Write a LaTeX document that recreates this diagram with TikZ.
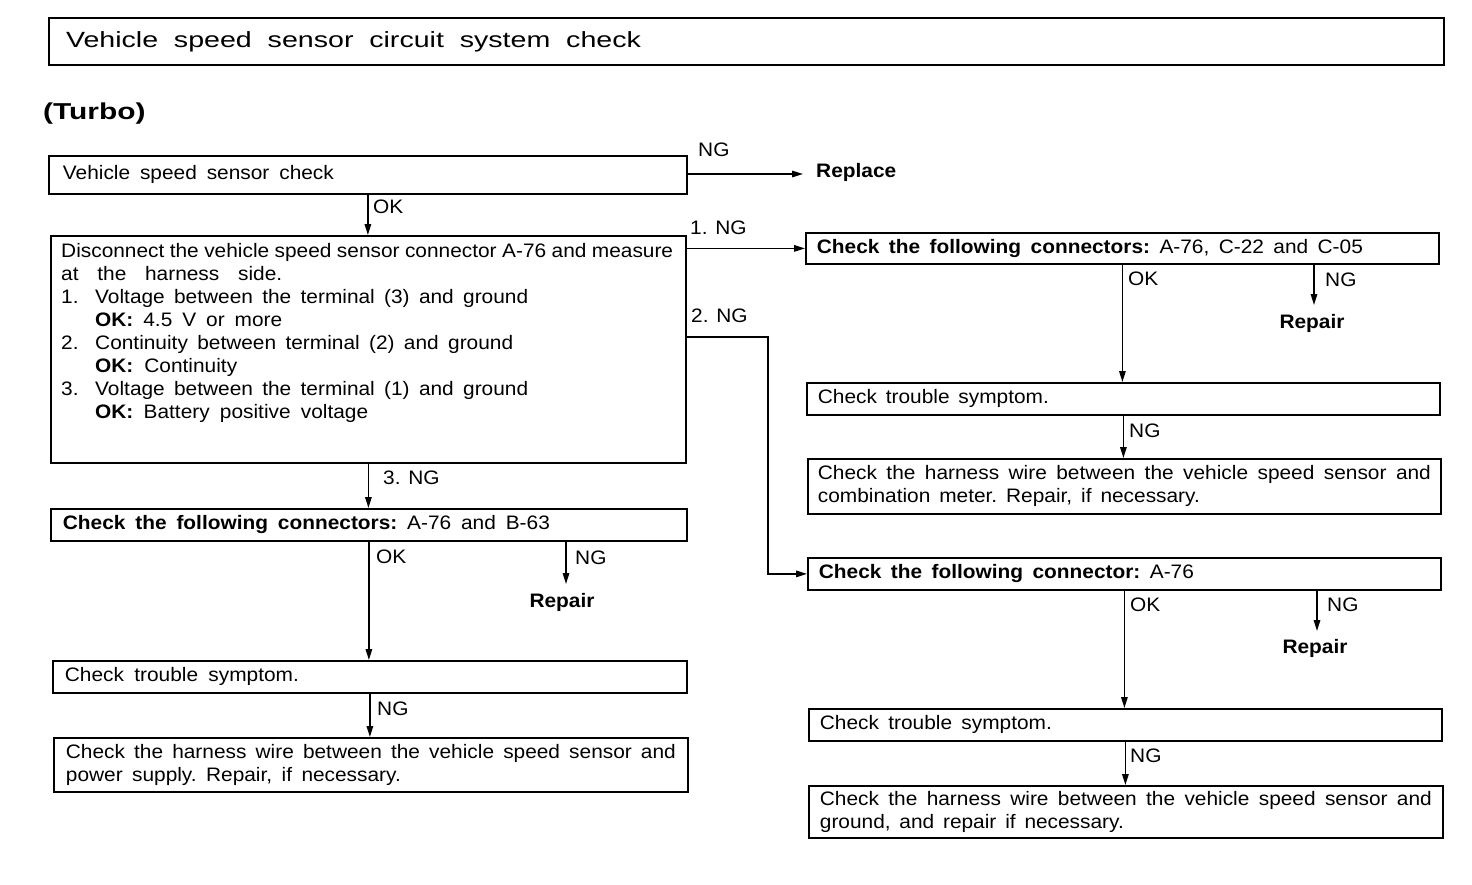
\documentclass[tikz,border=0pt]{standalone}
\usepackage{fontspec}
\setmainfont[FakeStretch=1.07]{Liberation Sans}
\newfontfamily\titlefont[FakeStretch=1.3]{Liberation Sans}
\usetikzlibrary{arrows.meta}
\newcommand\jline[2]{\makebox[#1pt][s]{\frenchspacing\spaceskip=0.27em plus 1fil minus 0.1em\relax #2}}
\begin{document}
\begin{tikzpicture}[x=1pt,y=-1pt,
  every node/.style={font=\fontsize{19.5}{23}\selectfont},
  box/.style={draw, line width=1.8pt, anchor=north west, inner ysep=0pt, align=left},
  lbl/.style={anchor=west, inner sep=0pt},
  arr/.style={line width=1.5pt, -{Triangle[length=11pt,width=6.5pt]}}]
\useasboundingbox (0,0) rectangle (1472,884);
% title
\node[box, line width=2pt, minimum width=1395pt, minimum height=47pt, text width=1361pt, inner xsep=17pt, font=\titlefont\fontsize{22}{26}\selectfont] (title) at (48,17) {\jline{575}{Vehicle speed sensor circuit system check}};
\node[lbl, font=\titlefont\bfseries\fontsize{23}{26}\selectfont] (turbo) at (43,114) {(Turbo)};
% left column
\node[box, minimum width=638pt, minimum height=38pt, text width=610pt, inner xsep=14pt] (b1) at (48,155) {\jline{271}{Vehicle speed sensor check}};
\node[box, minimum width=635pt, minimum height=227pt] (b2) at (50,235) {};
\node[anchor=north west, inner sep=0pt, text width=620pt, align=left] (b2t) at (61,243) {%
\jline{612}{Disconnect the vehicle speed sensor connector A-76 and measure}\\
\jline{221}{at the harness side.}\\
\makebox[34pt][l]{1.}\jline{433}{Voltage between the terminal (3) and ground}\\
\hspace*{34pt}\jline{187}{\textbf{OK:} 4.5 V or more}\\
\makebox[34pt][l]{2.}\jline{418}{Continuity between terminal (2) and ground}\\
\hspace*{34pt}\jline{142}{\textbf{OK:} Continuity}\\
\makebox[34pt][l]{3.}\jline{433}{Voltage between the terminal (1) and ground}\\
\hspace*{34pt}\jline{273}{\textbf{OK:} Battery positive voltage}};
\node[box, minimum width=636pt, minimum height=32pt, text width=612pt, inner xsep=12pt] (l3) at (50,508) {\jline{487}{\textbf{Check the following connectors:} A-76 and B-63}};
\node[box, minimum width=634pt, minimum height=32pt, text width=610pt, inner xsep=12pt] (l4) at (52,660) {\jline{234}{Check trouble symptom.}};
\node[box, minimum width=634pt, minimum height=54pt, text width=610pt, inner xsep=12pt] (l5) at (53,737) {\jline{610}{Check the harness wire between the vehicle speed sensor and}\\ \jline{335}{power supply. Repair, if necessary.}};
% right column
\node[box, minimum width=633pt, minimum height=31pt, text width=611pt, inner xsep=11pt] (r1) at (805,232) {\jline{546}{\textbf{Check the following connectors:} A-76, C-22 and C-05}};
\node[box, minimum width=633pt, minimum height=32pt, text width=611pt, inner xsep=11pt] (r2) at (806,382) {\jline{231}{Check trouble symptom.}};
\node[box, minimum width=633pt, minimum height=55pt, text width=613pt, inner xsep=10pt] (r3) at (807,458) {\jline{613}{Check the harness wire between the vehicle speed sensor and}\\ \jline{382}{combination meter. Repair, if necessary.}};
\node[box, minimum width=633pt, minimum height=32pt, text width=611pt, inner xsep=11pt] (r4) at (807,557) {\jline{375}{\textbf{Check the following connector:} A-76}};
\node[box, minimum width=633pt, minimum height=32pt, text width=611pt, inner xsep=11pt] (r5) at (808,708) {\jline{232}{Check trouble symptom.}};
\node[box, minimum width=634pt, minimum height=52pt, text width=612pt, inner xsep=11pt] (r6) at (808,785) {\jline{612}{Check the harness wire between the vehicle speed sensor and}\\ \jline{304}{ground, and repair if necessary.}};
% labels and connectors
\node[lbl] (ng0) at (698,150) {NG};
\node[lbl] (rep0) at (816,172) {\textbf{Replace}};
\coordinate (rep0a) at (803,174);
\draw[arr] (b1.east |- rep0a) -- (rep0a);
\node[lbl] (ok1) at (373,207) {OK};
\draw[arr] (b1.south) -- (b1.south |- b2.north);
\node[lbl] (ng1) at (690,228) {1. NG};
\draw[arr] (b2.east |- r1.west) -- (r1.west);
\node[lbl] (ng2) at (691,316) {2. NG};
\coordinate (k2) at (768,337);
\draw[arr] (b2.east |- k2) -- (k2) |- (r4.west);
\node[lbl] (ng3) at (383,478) {3. NG};
\draw[arr] (b2.south) -- (b2.south |- l3.north);
\node[lbl] (okl3) at (376,557) {OK};
\draw[arr] (l3.south) -- (l3.south |- l4.north);
\node[lbl] (ngl3) at (575,558) {NG};
\node[inner sep=0pt] (repl) at (562,602) {\textbf{Repair}};
\coordinate (repla) at (566,584);
\draw[arr] (l3.south -| repla) -- (repla);
\node[lbl] (ngl4) at (377,709) {NG};
\draw[arr] (l4.south) -- (l4.south |- l5.north);
\node[lbl] (okr1) at (1128,279) {OK};
\draw[arr] (r1.south) -- (r1.south |- r2.north);
\node[lbl] (ngr1) at (1325,280) {NG};
\node[inner sep=0pt] (repr1) at (1312,323) {\textbf{Repair}};
\coordinate (repr1a) at (1314,305);
\draw[arr] (r1.south -| repr1a) -- (repr1a);
\node[lbl] (ngr2) at (1129,431) {NG};
\draw[arr] (r2.south) -- (r2.south |- r3.north);
\node[lbl] (okr4) at (1130,605) {OK};
\draw[arr] (r4.south) -- (r4.south |- r5.north);
\node[lbl] (ngr4) at (1327,605) {NG};
\node[inner sep=0pt] (repr4) at (1315,648) {\textbf{Repair}};
\coordinate (repr4a) at (1317,631);
\draw[arr] (r4.south -| repr4a) -- (repr4a);
\node[lbl] (ngr5) at (1130,756) {NG};
\draw[arr] (r5.south) -- (r5.south |- r6.north);
\end{tikzpicture}
\end{document}
